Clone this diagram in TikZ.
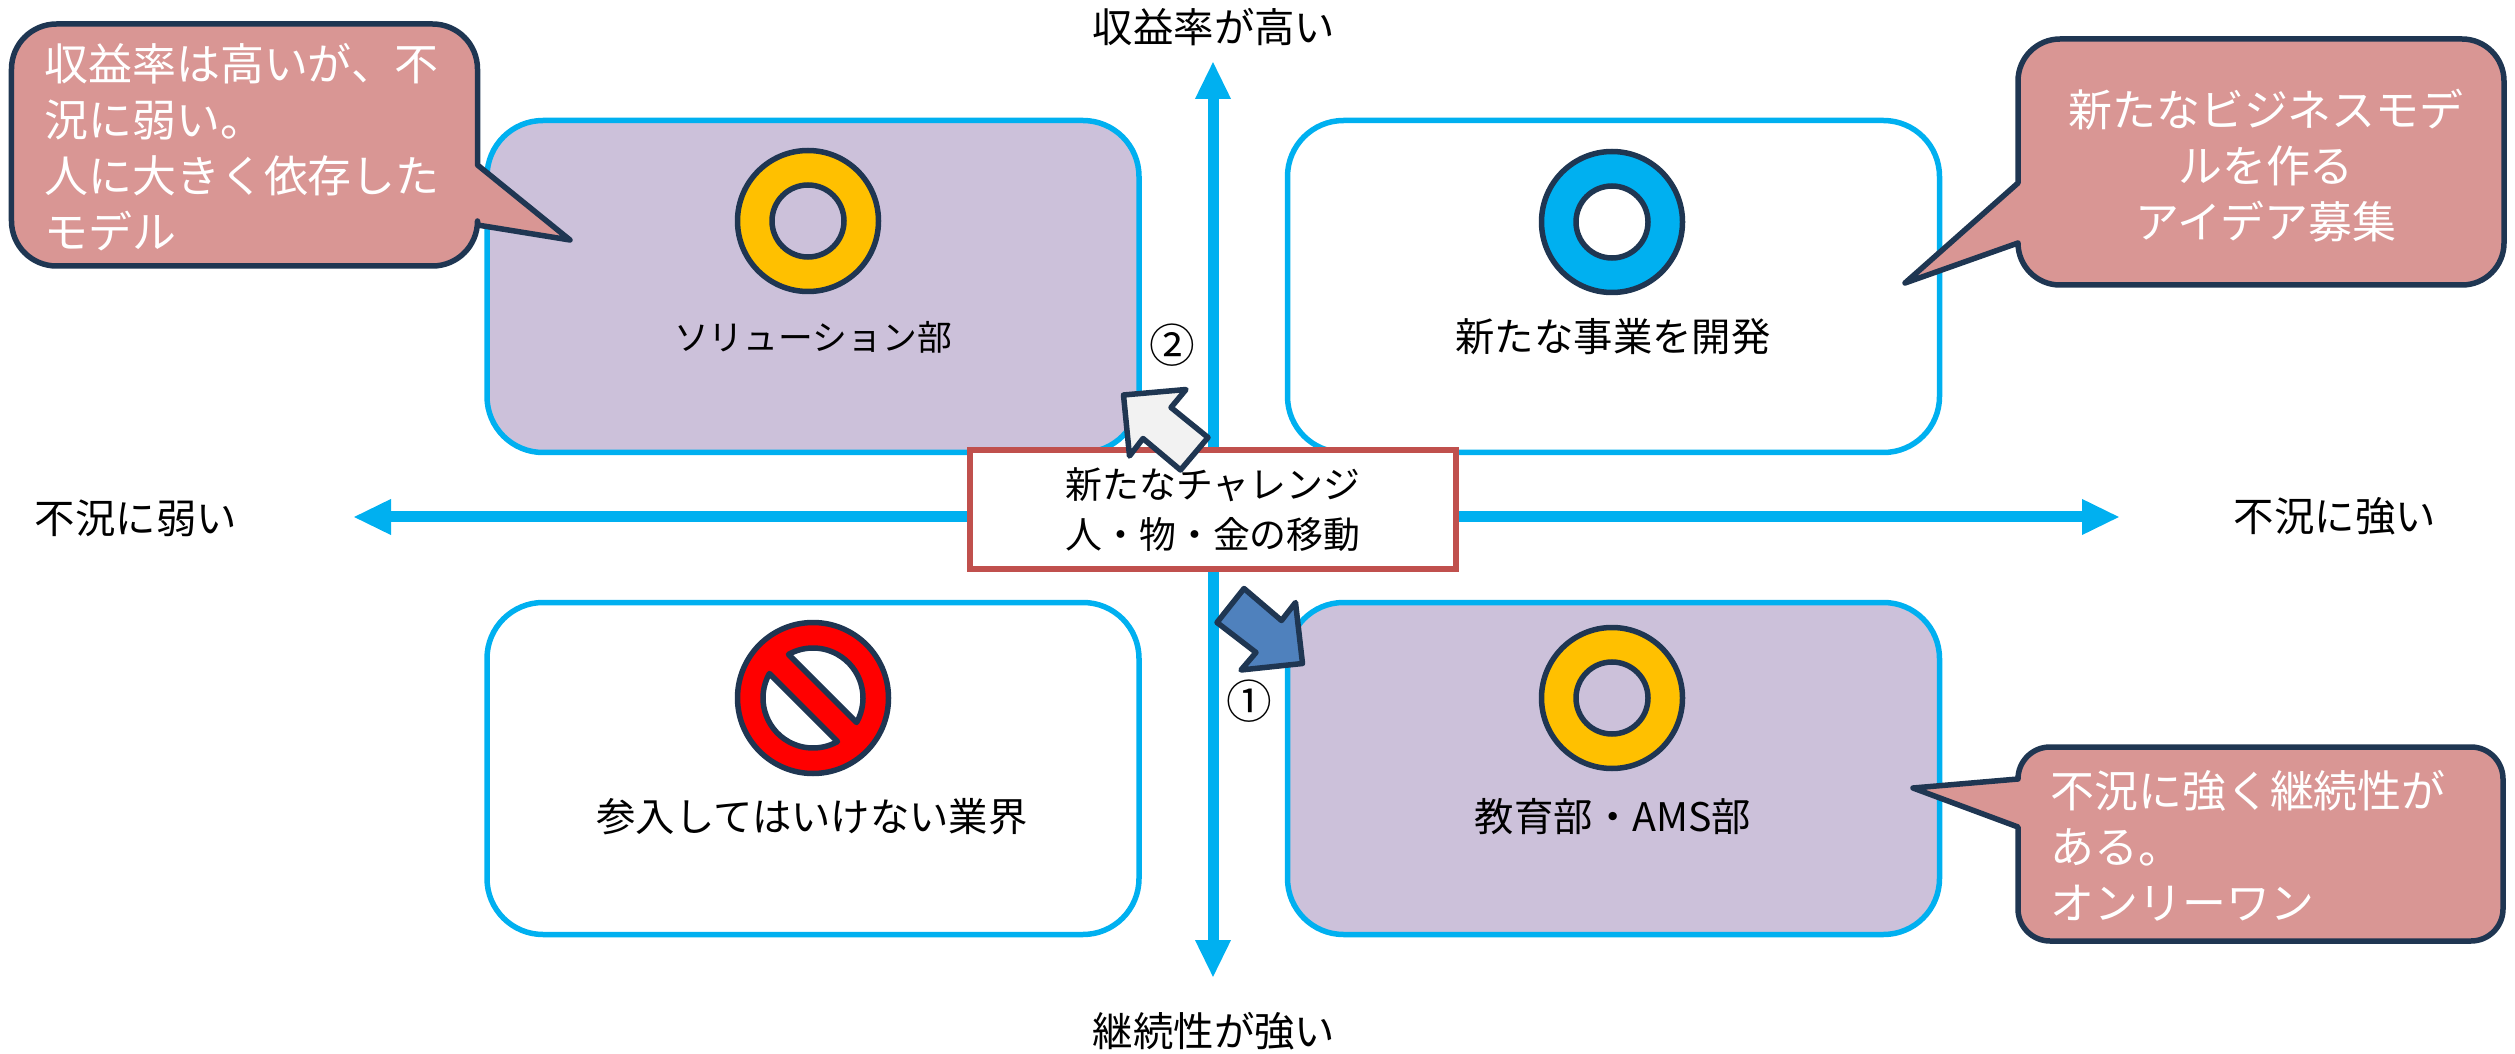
\documentclass[tikz,border=0pt]{standalone}
\usepackage{fontspec}
\setmainfont{Noto Sans CJK JP}
\usetikzlibrary{arrows.meta}
\definecolor{axisblue}{HTML}{00B0F0}
\definecolor{boxlilac}{HTML}{CCC1DA}
\definecolor{talkpink}{HTML}{D99694}
\definecolor{inkblue}{HTML}{1F3652}
\definecolor{ringgold}{HTML}{FFC000}
\definecolor{framered}{HTML}{C0504D}
\definecolor{moveblue}{HTML}{4F81BD}
\tikzstyle{quadbox} = [rectangle, 
minimum width=13.04cm, 
minimum height=6.64cm, 
rounded corners=1.12cm, 
line width=0.11cm, 
draw=axisblue, 
fill=white]
\tikzstyle{axisline} = [line width=0.22cm, draw=axisblue, <->, >={Triangle[width=0.66cm,length=0.76cm]}]
\tikzstyle{axislabel} = [inner sep=0pt, font=\fontsize{23}{28}\selectfont]
\tikzstyle{quadlabel} = [inner sep=0pt, font=\fontsize{22.4}{28}\selectfont]
\tikzstyle{kanalabel} = [inner sep=0pt, font=\fontsize{19.8}{28}\selectfont]
\tikzstyle{talktext} = [inner sep=0pt, text=white, font=\fontsize{25}{31.9}\selectfont]
\tikzstyle{talkshape} = [line width=0.11cm, draw=inkblue, fill=talkpink, line join=round]
\tikzstyle{ringout} = [circle, minimum size=2.82cm, inner sep=0pt, line width=0.11cm, draw=inkblue]
\tikzstyle{ringhole} = [circle, minimum size=1.44cm, inner sep=0pt, line width=0.11cm, draw=inkblue]
\tikzstyle{movearrow} = [line width=0.11cm, draw=inkblue, line join=round]
\tikzstyle{stepnum} = [inner sep=0pt, font=\fontsize{26}{30}\selectfont]
\begin{document}
\begin{tikzpicture}
    \useasboundingbox (0,0) rectangle (50.3,-21.08);

    % Quadrants
    \node (sol) [quadbox, fill=boxlilac, xshift=16.26cm, yshift=-5.73cm] {};
    \node (newbiz) [quadbox, xshift=32.27cm, yshift=-5.73cm] {};
    \node (noentry) [quadbox, xshift=16.26cm, yshift=-15.37cm] {};
    \node (edu) [quadbox, fill=boxlilac, xshift=32.27cm, yshift=-15.37cm] {};

    % Axes
    \coordinate (axtop) at (24.26,-1.22);
    \coordinate (axbottom) at (24.26,-19.56);
    \coordinate (axleft) at (7.06,-10.34);
    \coordinate (axright) at (42.4,-10.34);
    \draw [axisline] (axtop) -- (axbottom);
    \draw [axisline] (axleft) -- (axright);

    \node (hiyield) [axislabel, xshift=24.28cm, yshift=-0.54cm] {収益率が高い};
    \node (lasting) [axislabel, xshift=24.28cm, yshift=-20.62cm] {継続性が強い};
    \node (weak) [axislabel, xshift=2.72cm, yshift=-10.36cm] {不況に弱い};
    \node (strong) [axislabel, xshift=46.7cm, yshift=-10.32cm] {不況に強い};

    % Rings
    \node (solring) [ringout, fill=ringgold, xshift=16.16cm, yshift=-4.42cm] {};
    \node (solhole) [ringhole, fill=boxlilac, xshift=16.16cm, yshift=-4.42cm] {};
    \node (bizring) [ringout, fill=axisblue, xshift=32.24cm, yshift=-4.44cm] {};
    \node (bizhole) [ringhole, fill=white, xshift=32.24cm, yshift=-4.44cm] {};
    \node (eduring) [ringout, fill=ringgold, xshift=32.24cm, yshift=-13.96cm] {};
    \node (eduhole) [ringhole, fill=boxlilac, xshift=32.24cm, yshift=-13.96cm] {};

    % No entry sign
    \node (nosign) [ringout, minimum size=3.02cm, fill=red, xshift=16.26cm, yshift=-13.96cm] {};
    \draw [movearrow, fill=white] (nosign) ++(-29.3:1cm) arc (-29.3:119.3:1cm) -- cycle;
    \draw [movearrow, fill=white] (nosign) ++(150.7:1cm) arc (150.7:299.3:1cm) -- cycle;

    \node (sollabel) [kanalabel, xshift=16.26cm, yshift=-6.74cm] {ソリューション部};
    \node (bizlabel) [quadlabel, xshift=32.26cm, yshift=-6.74cm] {新たな事業を開発};
    \node (nolabel) [quadlabel, xshift=16.24cm, yshift=-16.34cm] {参入してはいけない業界};
    \node (edulabel) [quadlabel, xshift=32.26cm, yshift=-16.34cm] {教育部・AMS部};

    % Talk bubbles
    \draw [talkshape] (9.55,-3.3) [rounded corners=0.9cm] -- (9.55,-0.48) -- (0.23,-0.48) -- (0.23,-5.32) -- (9.55,-5.32) [sharp corners] -- (9.55,-4.5) -- (11.4,-4.8) -- cycle;
    \draw [talkshape] (40.36,-3.66) [rounded corners=0.84cm] -- (40.36,-0.78) -- (50.08,-0.78) -- (50.08,-5.7) -- (40.36,-5.7) [sharp corners] -- (40.36,-4.86) -- (38.1,-5.66) -- cycle;
    \draw [talkshape] (40.36,-15.58) [rounded corners=0.64cm] -- (40.36,-14.94) -- (50.06,-14.94) -- (50.06,-18.82) -- (40.36,-18.82) [sharp corners] -- (40.36,-16.54) -- (38.26,-15.76) -- cycle;

    \node (soltalk) [talktext, anchor=west, align=left, xshift=0.88cm, yshift=-2.95cm] {収益率は高いが、不\\況に弱い。\\人に大きく依存した\\モデル};
    \node (biztalk) [talktext, align=center, xshift=45.32cm, yshift=-3.32cm] {新たなビジネスモデ\\ルを作る\\アイデア募集};
    \node (edutalk) [talktext, anchor=west, align=left, xshift=41cm, yshift=-16.92cm] {不況に強く継続性が\\ある。\\オンリーワン};

    % Centre box
    \node (shift) [rectangle, minimum width=9.72cm, minimum height=2.38cm, line width=0.11cm, draw=framered, fill=white, align=center, inner sep=0pt, font=\fontsize{21}{28.5}\selectfont, xshift=24.26cm, yshift=-10.19cm] {新たなチャレンジ\\人・物・金の移動};

    % Moves
    \draw [movearrow, fill=moveblue] (24.88,-11.77) -- (25.63,-12.41) -- (25.91,-12.05) -- (26.05,-13.27) -- (24.82,-13.4) -- (25.12,-13.05) -- (24.34,-12.45) -- cycle;
    \draw [movearrow, fill=black!5] (22.47,-7.9) -- (23.72,-7.79) -- (23.42,-8.15) -- (24.16,-8.75) -- (23.61,-9.4) -- (22.86,-8.77) -- (22.59,-9.12) -- cycle;
    \node (step1) [stepnum, xshift=24.98cm, yshift=-14.03cm] {①};
    \node (step2) [stepnum, xshift=23.44cm, yshift=-6.9cm] {②};
\end{tikzpicture}
\end{document}
